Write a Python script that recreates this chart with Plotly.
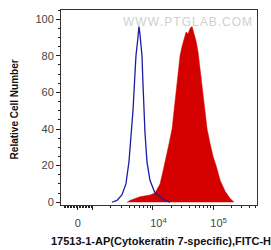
import plotly.graph_objects as go
import math

# Data: x in log10(fluorescence) display units, y = relative cell number
ctrl_x = [3.317, 3.40, 3.483, 3.55, 3.60, 3.633, 3.667, 3.70, 3.717, 3.75, 3.767, 3.783,
          3.817, 3.833, 3.85, 3.867, 3.90, 3.95, 4.033, 4.117, 4.20, 4.283]
ctrl_y = [0, 1, 4, 10, 22, 35, 50, 70, 80, 90, 96, 92, 80, 65, 50, 38, 22, 12, 5, 3, 1, 0]

ab_x = [3.567, 3.617, 3.783, 3.95, 4.033, 4.117, 4.167, 4.217, 4.267, 4.317, 4.35, 4.383,
        4.417, 4.45, 4.483, 4.517, 4.55, 4.583, 4.617, 4.65, 4.683, 4.717, 4.75, 4.783,
        4.833, 4.867, 4.90, 4.95, 5.0, 5.05, 5.117, 5.20, 5.283, 5.35]
ab_y = [0, 1, 3, 4, 5, 10, 17, 24, 32, 40, 50, 60, 70, 80, 85, 90, 93, 92, 95, 96, 92,
        88, 82, 72, 60, 50, 40, 32, 25, 20, 12, 6, 2, 0]

x_tick_vals = [2.75, 3, 4, 5]
x_tick_text = ["0", "", "\u2002\u200210<sup>4</sup>", "\u2002\u200210<sup>5</sup>"]
y_tick_vals = [0, 20, 40, 60, 80, 100]

minor_x = [2.75 + 0.25 * k / 10 for k in range(1, 10)] + [2.75 - 0.25 * k / 10 for k in range(1, 10)]
for dec in (3, 4, 5):
    for m in range(2, 10):
        v = dec + math.log10(m)
        if v < 5.73:
            minor_x.append(v)

fig = go.Figure()
fig.add_trace(go.Scatter(x=ab_x, y=ab_y, mode="lines", fill="tozeroy",
                         line=dict(color="#d40000", width=0.5), fillcolor="#d40000"))
fig.add_trace(go.Scatter(x=ctrl_x, y=ctrl_y, mode="lines",
                         line=dict(color="#1a1aa8", width=1.3)))

font = "Liberation Sans, Arial, sans-serif"
fig.update_layout(
    width=271, height=250, showlegend=False,
    margin=dict(l=61, r=14, t=10, b=45, autoexpand=False),
    plot_bgcolor="white", paper_bgcolor="white",
    font=dict(family=font, size=11, color="#444"),
    xaxis=dict(range=[2.47, 5.73], tickvals=x_tick_vals, ticktext=x_tick_text,
               ticks="outside", ticklen=4, tickcolor="#222", tickwidth=1,
               ticklabelstandoff=4,
               showline=True, linecolor="#333", mirror=True, showgrid=False, zeroline=False,
               minor=dict(tickvals=minor_x, ticks="outside", ticklen=2, tickcolor="#222"),
               tickfont=dict(size=11, color="#444")),
    yaxis=dict(range=[-1.5, 105], tickvals=y_tick_vals,
               ticks="outside", ticklen=4, tickcolor="#222",
               showline=True, linecolor="#333", mirror=True, showgrid=False, zeroline=False,
               minor=dict(dtick=5, ticks="outside", ticklen=2, tickcolor="#222"),
               tickfont=dict(size=11, color="#444")),
)
# axis titles
fig.add_annotation(text="<b>17513-1-AP(Cytokeratin 7-specific),FITC-H</b>",
                   xref="paper", yref="paper", x=0.51, y=-0.185,
                   xanchor="center", yanchor="middle", showarrow=False,
                   font=dict(family=font, size=11, color="#111"))
fig.add_annotation(text="<b>Relative Cell Number</b>", textangle=-90,
                   xref="paper", yref="paper", x=-0.235, y=0.49,
                   xanchor="center", yanchor="middle", showarrow=False,
                   font=dict(family=font, size=10, color="#111"))
fig.add_annotation(text="W W W . P T G L A B . C O M".replace(" ", "\u200a"),
                   xref="paper", yref="paper", x=0.985, y=0.985,
                   xanchor="right", yanchor="top", showarrow=False,
                   font=dict(family=font, size=12, color="#d0d0d0"))
fig.write_html("out.html", config={"displayModeBar": False},
               post_script="document.body.style.margin='0';document.body.style.overflow='hidden';")
